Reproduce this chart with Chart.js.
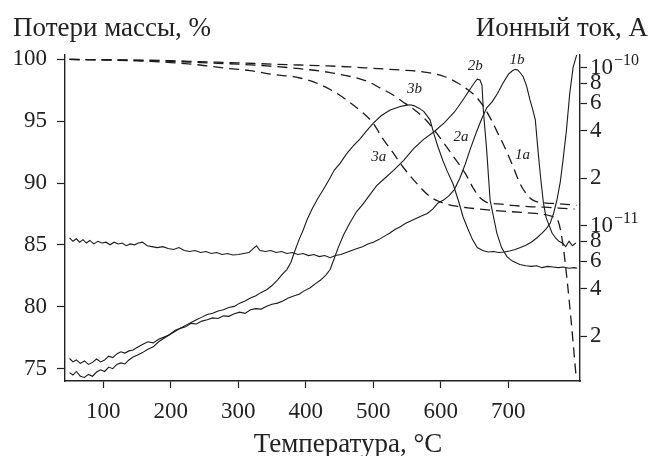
<!DOCTYPE html>
<html>
<head>
<meta charset="utf-8">
<script src="https://cdn.jsdelivr.net/npm/chart.js@4.4.0/dist/chart.umd.min.js"></script>
<style>
  html, body { margin: 0; padding: 0; background: #fff; }
  #wrap { width: 650px; height: 456px; }
</style>
</head>
<body>
<div id="wrap"><canvas id="tgChart" width="650" height="456"></canvas></div>
<script>
// Axis ticks
const tempTicks = [100, 200, 300, 400, 500, 600, 700];
const massTicks = [75, 80, 85, 90, 95, 100];
const currentTicks = [2e-12, 4e-12, 6e-12, 8e-12, 1e-11, 2e-11, 4e-11, 6e-11, 8e-11, 1e-10];
const currentTickLabels = ["2", "4", "6", "8", "10", "2", "4", "6", "8", "10"];
const currentTickExponents = ["", "", "", "", "\u221211", "", "", "", "", "\u221210"];

// Mass loss curves (%), dashed
const t1a = [50,100,150,200,243,300,350,391,430,465,500,539,576,606,625,640,652,662,672,683,698,708,717,727,737,750,766,785,801];
const mass1a = [100.0,99.98,99.95,99.9,99.82,99.72,99.62,99.55,99.48,99.4,99.28,99.15,98.98,98.6,98.1,97.55,97.0,96.3,95.4,94.2,92.5,91.2,90.0,89.1,88.6,88.42,88.35,88.28,88.2];

const t2a = [50,100,150,200,243,300,342,391,440,490,510,530,543,554,566,578,590,601,618,636,648,655,663,670,690,705,730,754,775,798];
const mass2a = [100.0,99.97,99.92,99.85,99.75,99.62,99.48,99.25,98.9,98.25,97.7,97.1,96.6,96.2,95.7,95.1,94.3,93.5,92.2,90.8,89.6,89.0,88.6,88.4,88.3,88.2,88.1,88.05,87.98,87.9];

const t3a = [50,100,150,200,243,280,317,350,391,420,440,461,484,499,514,530,544,569,584,596,606,620,640,676,725,765,774,781,787,793,800];
const mass3a = [100.0,99.96,99.88,99.75,99.55,99.3,99.1,98.8,98.5,98.0,97.45,96.7,95.7,94.9,93.6,92.4,91.3,89.7,88.9,88.55,88.35,88.15,88.0,87.8,87.6,87.3,86.9,85.0,82.2,78.9,74.6];

// Ion current curves, in pA (1e-12 A)
const t1b = [50,55,60,65,70,75,80,86,92,98,104,110,116,122,128,134,140,146,152,158,165,172,180,188,196,204,212,220,228,236,244,252,260,268,276,284,292,300,308,316,322,327,332,340,348,356,364,372,380,388,396,404,412,420,428,436,444,452,460,468,476,484,492,500,508,516,524,532,540,548,556,564,572,580,588,596,604,612,620,628,636,644,652,660,668,676,684,692,700,706,710,714,718,722,727,732,736,740,744,748,752,756,760,765,770,775,780,785,790,795,800];
const ion1b = [8.4,8.0,8.3,7.9,8.2,7.8,8.1,7.7,8.0,7.8,7.9,7.6,7.9,7.7,7.8,7.5,7.7,7.6,7.8,7.9,7.5,7.4,7.3,7.4,7.2,7.1,7.3,7.0,6.9,7.0,6.8,6.9,6.7,6.8,6.6,6.7,6.55,6.6,6.7,6.8,7.2,7.5,7.0,6.9,7.0,6.8,6.9,6.7,6.8,6.6,6.7,6.5,6.6,6.4,6.5,6.3,6.5,6.6,6.8,7.0,7.2,7.4,7.7,7.9,8.2,8.6,9.0,9.5,9.9,10.4,10.8,11.2,11.6,12.0,12.8,14.0,14.6,15.5,17.0,20.0,24.5,31,38.5,47,56,61,69,80,91,96,98,97,93,88,77,63,55,47,30,20,14,11.3,10.2,9.0,8.4,8.0,7.8,7.4,8.0,7.5,7.8];

const t2b = [50,55,60,66,72,78,84,90,96,102,108,114,120,126,132,138,144,150,158,166,174,182,190,198,206,214,222,230,238,246,254,262,270,278,286,294,302,310,318,326,334,342,350,358,366,374,382,390,398,406,414,422,430,436,442,448,456,465,475,485,495,505,515,530,545,560,575,590,605,620,632,642,650,654,658,661,663,668,673,683,690,698,706,717,726,734,742,750,758,766,774,782,790,798,802];
const ion2b = [1.18,1.14,1.20,1.12,1.10,1.15,1.12,1.19,1.23,1.20,1.28,1.25,1.33,1.36,1.34,1.42,1.48,1.52,1.58,1.66,1.72,1.85,1.95,2.05,2.15,2.25,2.30,2.42,2.40,2.50,2.55,2.62,2.60,2.70,2.68,2.78,2.85,2.80,2.95,3.00,2.98,3.10,3.20,3.25,3.35,3.50,3.60,3.70,3.90,4.05,4.30,4.55,4.90,5.3,6.2,7.3,8.8,10.4,12.3,13.8,15.8,18.0,19.7,22.5,26.0,31.0,35.5,39.5,45.0,52.5,62.0,72.0,81.0,85.0,84.0,78.0,54.0,30.0,14.6,9.0,7.3,6.4,6.0,5.7,5.6,5.55,5.6,5.45,5.55,5.5,5.45,5.5,5.4,5.45,5.4];

const t3b = [50,55,60,66,72,78,84,90,96,102,108,114,120,126,132,138,144,150,158,166,174,182,190,198,206,214,222,230,238,246,254,262,270,278,286,294,302,310,318,326,334,342,350,358,366,372,378,384,390,396,402,410,418,426,434,442,451,460,470,480,490,500,512,525,540,548,554,560,568,575,584,590,596,603,610,618,626,633,640,647,654,662,670,678,686,694,702,710,718,726,734,742,750,756,762,767,772,777,781,786,791,796,802];
const ion3b = [1.45,1.38,1.42,1.35,1.40,1.33,1.37,1.44,1.38,1.42,1.50,1.47,1.55,1.60,1.57,1.62,1.64,1.70,1.78,1.85,1.82,1.92,1.98,2.05,2.18,2.25,2.35,2.45,2.55,2.65,2.75,2.80,2.90,2.95,3.05,3.10,3.25,3.35,3.50,3.62,3.80,3.95,4.20,4.55,5.0,5.3,5.9,7.0,8.2,9.4,11.0,13.0,15.0,17.0,19.5,22.5,25.0,28.5,32.0,35.5,40.0,44.8,50.0,54.2,57.0,58.0,58.5,57.8,55.5,53.0,47.0,38.0,31.5,26.0,22.0,18.5,14.5,11.4,9.6,8.2,7.3,7.0,6.85,6.9,6.8,6.85,6.95,7.1,7.3,7.55,7.9,8.4,9.0,9.6,10.4,12.0,14.6,19.0,26.0,40.0,69.0,101,124];

// Curve names, placed in (temperature, mass %) coordinates
const curveNames = ["1a", "2a", "3a", "1b", "2b", "3b"];
const nameTemps = [721, 630, 508, 713, 651, 561];
const nameMass = [92.27, 93.73, 92.1, 99.96, 99.47, 97.6];

const serif = '"Liberation Serif", "DejaVu Serif", serif';
const ink = "#1a1a1a";
const axisColor = "#222";

function toPoints(xs, ys, k) {
  return xs.map((x, i) => ({ x: x, y: ys[i] * k }));
}

const dashedStyle = {
  borderColor: ink, borderWidth: 1.3, borderDash: [10, 6], pointRadius: 0,
  yAxisID: "y", cubicInterpolationMode: "monotone", fill: false,
};
const solidStyle = {
  borderColor: ink, borderWidth: 1.1, pointRadius: 0,
  yAxisID: "y2", tension: 0, fill: false,
};

// Titles drawn as plain horizontal text like the figure
const titlesPlugin = {
  id: "titles",
  afterDraw(chart) {
    const ctx = chart.ctx;
    ctx.save();
    ctx.fillStyle = axisColor;
    ctx.font = "27px " + serif;
    ctx.textBaseline = "alphabetic";
    ctx.textAlign = "left";
    ctx.fillText("Потери массы, %", 13, 36);
    ctx.textAlign = "right";
    ctx.fillText("Ионный ток, А", 648, 36);
    ctx.textAlign = "center";
    ctx.fillText("Температура, °C", 348, 452);

    // exponents of the decade labels on the right axis
    const s = chart.scales.y2;
    ctx.font = "23px " + serif;
    const baseW = ctx.measureText("10").width;
    ctx.font = "16px " + serif;
    ctx.textAlign = "left";
    currentTicks.forEach((v, i) => {
      if (!currentTickExponents[i]) return;
      const py = s.getPixelForValue(v);
      ctx.fillText(currentTickExponents[i], s.left + 10 + baseW + 1, py - 3);
    });

    // curve names
    ctx.font = "italic 15px " + serif;
    ctx.textAlign = "center";
    ctx.textBaseline = "middle";
    const sx = chart.scales.x, sy = chart.scales.y;
    curveNames.forEach((name, i) => {
      ctx.fillText(name, sx.getPixelForValue(nameTemps[i]), sy.getPixelForValue(nameMass[i]));
    });
    ctx.restore();
  },
};

const tickFont = { family: serif, size: 23 };

new Chart(document.getElementById("tgChart").getContext("2d"), {
  type: "line",
  data: {
    datasets: [
      { ...dashedStyle, label: "1a", data: toPoints(t1a, mass1a, 1) },
      { ...dashedStyle, label: "2a", data: toPoints(t2a, mass2a, 1) },
      { ...dashedStyle, label: "3a", data: toPoints(t3a, mass3a, 1) },
      { ...solidStyle, label: "1b", data: toPoints(t1b, ion1b, 1e-12) },
      { ...solidStyle, label: "2b", data: toPoints(t2b, ion2b, 1e-12) },
      { ...solidStyle, label: "3b", data: toPoints(t3b, ion3b, 1e-12) },
    ],
  },
  options: {
    responsive: false,
    animation: false,
    events: [],
    layout: { padding: { top: 55, left: 0, right: 0, bottom: 0 } },
    plugins: { legend: { display: false }, tooltip: { enabled: false } },
    scales: {
      x: {
        type: "linear",
        min: 43.26,
        max: 806.2,
        afterBuildTicks: (s) => { s.ticks = tempTicks.map((v) => ({ value: v })); },
        afterFit: (s) => { s.height = 75; },
        grid: { drawOnChartArea: false, drawTicks: true, tickLength: 7, tickColor: axisColor, tickWidth: 1.2 },
        border: { display: true, color: axisColor, width: 1.4 },
        ticks: { color: axisColor, font: tickFont, padding: 10, maxRotation: 0, autoSkip: false },
      },
      y: {
        type: "linear",
        position: "left",
        min: 73.99,
        max: 100.36,
        afterBuildTicks: (s) => { s.ticks = massTicks.map((v) => ({ value: v })); },
        afterFit: (s) => { s.width = 65; },
        grid: { drawOnChartArea: false, drawTicks: true, tickLength: 8, tickColor: axisColor, tickWidth: 1.2 },
        border: { display: true, color: axisColor, width: 1.4 },
        ticks: { color: axisColor, font: tickFont, padding: 10, autoSkip: false },
      },
      y2: {
        type: "logarithmic",
        position: "right",
        min: 1.0447e-12,
        max: 1.2085e-10,
        afterBuildTicks: (s) => { s.ticks = currentTicks.map((v) => ({ value: v })); },
        afterFit: (s) => { s.width = 70; },
        grid: { drawOnChartArea: false, drawTicks: true, tickLength: 7, tickColor: axisColor, tickWidth: 1.2 },
        border: { display: true, color: axisColor, width: 1.4 },
        ticks: {
          color: axisColor, font: tickFont, padding: 3, autoSkip: false,
          callback: (v, i) => currentTickLabels[i],
        },
      },
    },
  },
  plugins: [titlesPlugin],
});
</script>
</body>
</html>
